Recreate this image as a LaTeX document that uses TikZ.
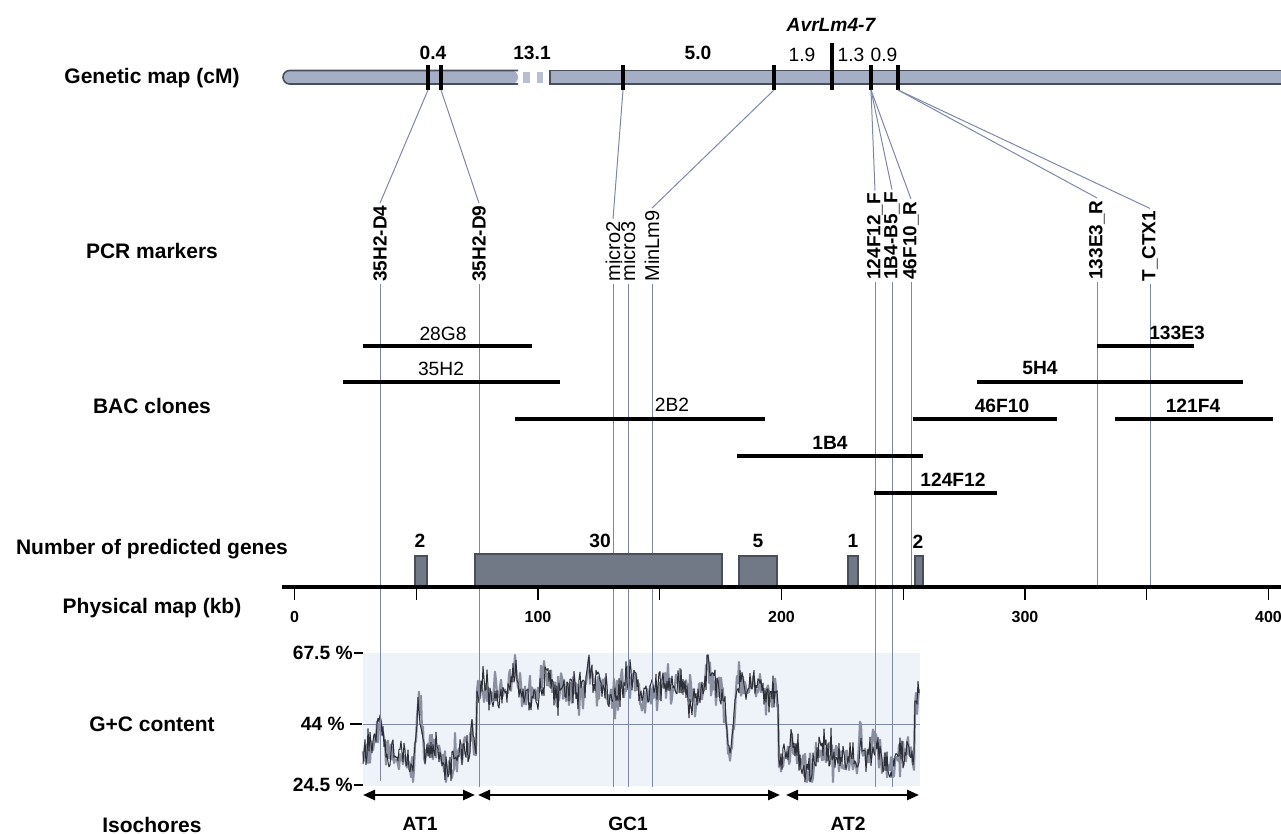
\documentclass[tikz,border=0pt]{standalone}
\usepackage{fontspec}
\setmainfont{Liberation Sans}
\usetikzlibrary{arrows.meta}
\definecolor{barfill}{HTML}{A4AEC4}
\definecolor{barline}{HTML}{4A4E5A}
\definecolor{vline}{HTML}{7D88A6}
\definecolor{genefill}{HTML}{717886}
\definecolor{gcbg}{HTML}{EEF2F9}
\definecolor{gcdark}{HTML}{2E3038}
\definecolor{gclight}{HTML}{8A90A0}
\begin{document}
\begin{tikzpicture}[x=0.5pt,y=-0.5pt,
  rowlab/.style={font=\fontsize{10.5}{12}\selectfont\bfseries, inner sep=0pt},
  num/.style={font=\fontsize{9.6}{11}\selectfont\bfseries, inner sep=0pt},
  numr/.style={font=\fontsize{9.6}{11}\selectfont, inner sep=0pt},
  mk/.style={font=\fontsize{9.5}{11}\selectfont\bfseries, rotate=90, anchor=west, inner sep=1pt},
  mkn/.style={font=\fontsize{10}{11}\selectfont, rotate=90, anchor=west, inner sep=1pt},
  gtick/.style={line width=2pt, black},
  vl/.style={draw=vline, line width=0.5pt},
  bacline/.style={line width=2pt, black},
  genebox/.style={draw=barline, fill=genefill, line width=0.6pt},
  axlab/.style={font=\fontsize{8}{10}\selectfont\bfseries, inner sep=0pt},
  iso/.style={line width=1.2pt, {Triangle[length=6pt,width=5pt]}-{Triangle[length=6pt,width=5pt]}},
  declare function={
    tri(\t,\c,\w)=max(0,1-abs(\t-\c)/\w);
    gcb(\t)=758 - 70*(\t>476)*(\t<779) - 16*(\t<386) - 16*tri(\t,379,6)
            - 62*tri(\t,419,6) - 30*tri(\t,472,3) + 8*tri(\t,490,6)
            + 65*tri(\t,730,7) - 22*tri(\t,589,4) - 20*tri(\t,708,3)
            - 25*tri(\t,860,3) - 62*(\t>914)
            + 7*sin(\t*9) + 5*sin(\t*13+40);
    gcy(\t)=min(782,max(655,gcb(\t)+12*rand+32*rand*rand*rand));
  }]
\useasboundingbox (0,0) rectangle (1281,834);

% ---------- row labels ----------
\node[rowlab] (lgen) at (152,78) {Genetic map (cM)};
\node[rowlab] (lpcr) at (152,251) {PCR markers};
\node[rowlab] (lbac) at (152,406) {BAC clones};
\node[rowlab] (lnum) at (152,549) {Number of predicted genes};
\node[rowlab] (lphy) at (152,608) {Physical map (kb)};
\node[rowlab] (lgc) at (152,724) {G+C content};
\node[rowlab] (liso) at (152,825) {Isochores};

% ---------- genetic map bar ----------
\fill[barfill, rounded corners=3.3pt] (518,70.5) -- (283,70.5) -- (283,84) -- (518,84) -- cycle;
\draw[barline, line width=0.8pt, rounded corners=3.3pt] (518,70.5) -- (283,70.5) -- (283,84) -- (518,84);
\fill[barfill] (550,70.5) rectangle (1281,84);
\draw[barline, line width=0.8pt] (1281,70.5) -- (550,70.5) -- (550,84) -- (1281,84);
\fill[barfill!80] (523,72) rectangle (530,83);
\fill[barfill!80] (537,72) rectangle (543,83);

% ticks on genetic map
\foreach \n/\gx in {1/428,2/441,3/623,4/774,6/871,7/898}{
  \draw[gtick] (\gx,65) -- (\gx,90) coordinate (g\n);
}
\draw[gtick] (832,43) -- (832,90) coordinate (g5);

% interval labels
\node[num] (c1) at (433,53) {0.4};
\node[num] (c2) at (532,53) {13.1};
\node[num] (c3) at (698,53) {5.0};
\node[numr] (c4) at (802,55) {1.9};
\node[numr] (c5) at (851,55) {1.3};
\node[numr] (c6) at (884,55) {0.9};
\node[num, font=\fontsize{9.6}{11}\selectfont\bfseries\itshape] (avr) at (831,25) {AvrLm4-7};

% ---------- PCR markers ----------
\node[mk]  (m1)  at (380,284) {35H2-D4};
\node[mk]  (m2)  at (479,284) {35H2-D9};
\node[mkn] (m3)  at (613,284) {micro2};
\node[mkn] (m4)  at (628,284) {micro3};
\node[mkn] (m5)  at (652,284) {MinLm9};
\node[mk]  (m6)  at (875,282) {124F12\_F};
\node[mk]  (m7)  at (892,282) {1B4-B5\_F};
\node[mk]  (m8)  at (911,282) {46F10\_R};
\node[mk]  (m9)  at (1097,282) {133E3\_R};
\node[mk]  (m10) at (1150,284) {T\_CTX1};

% connectors genetic map -> markers
\draw[vl] (g1) -- (m1.east);
\draw[vl] (g2) -- (m2.east);
\draw[vl] (g3) -- (m3.east);
\draw[vl] (g4) -- (m5.east);
\draw[vl] (g6) -- (m6.east);
\draw[vl] (g6) -- (m7.east);
\draw[vl] (g6) -- (m8.east);
\draw[vl] (g7) -- (m9.east);
\draw[vl] (g7) -- (m10.east);

% lower ends of the marker lines
\coordinate (e1) at (380,781);
\coordinate (e2) at (479,787);
\coordinate (e3) at (613,787);
\coordinate (e4) at (628,787);
\coordinate (e5) at (652,787);
\coordinate (e6) at (875,787);
\coordinate (e7) at (892,787);
\coordinate (e8) at (911,587);
\coordinate (e9) at (1097,587);
\coordinate (e10) at (1150,587);

% ---------- G+C background ----------
\fill[gcbg] (363,653) rectangle (920,786);
\draw[vl] (363,724) -- (920,724);

% G+C curve
\pgfmathsetseed{4711}
\draw[gclight, line width=1.1pt, line join=round] plot[domain=363:919, samples=557] (\x,{gcy(\x)});
\pgfmathsetseed{2718}
\draw[gcdark, line width=0.5pt, line join=round] plot[domain=363:919, samples=557] (\x,{gcy(\x)});

% vertical marker lines
\foreach \i in {1,...,10}{
  \draw[vl] (m\i.west) -- (e\i);
}

% ---------- BAC clones ----------
\draw[bacline] (363,346) -- (532,346);
\node[numr] (b1) at (443,334) {28G8};
\draw[bacline] (343,382) -- (560,382);
\node[numr] (b2) at (441,369) {35H2};
\draw[bacline] (515,419) -- (765,419);
\node[numr] (b3) at (672,405) {2B2};
\draw[bacline] (737,456) -- (923,456);
\node[num] (b4) at (830,443) {1B4};
\draw[bacline] (874,493) -- (997,493);
\node[num] (b5) at (953,480) {124F12};
\draw[bacline] (1097,346) -- (1194,346);
\node[num] (b6) at (1177,333) {133E3};
\draw[bacline] (977,382) -- (1243,382);
\node[num] (b7) at (1040,368) {5H4};
\draw[bacline] (913,419) -- (1057,419);
\node[num] (b8) at (1002,406) {46F10};
\draw[bacline] (1115,419) -- (1273,419);
\node[num] (b9) at (1193,406) {121F4};

% ---------- predicted genes ----------
\draw[genebox] (415,556) rectangle (427,587);
\draw[genebox] (475,554) rectangle (722,587);
\draw[genebox] (739,556) rectangle (777,587);
\draw[genebox] (848,556) rectangle (858,587);
\draw[genebox] (915,556) rectangle (923,587);
\node[num] (n1) at (420,541) {2};
\node[num] (n2) at (600,541) {30};
\node[num] (n3) at (758,541) {5};
\node[num] (n4) at (853,541) {1};
\node[num] (n5) at (918,542) {2};

% ---------- physical map ----------
\draw[line width=2pt] (282,587) -- (1281,587);
\foreach \v in {0,50,...,400}{
  \draw[line width=0.6pt] ({294.5+2.435*\v},587) -- ({294.5+2.435*\v},600);
}
\foreach \v/\nm in {0/p0,100/p1,200/p2,300/p3,400/p4}{
  \node[axlab] (\nm) at ({294.5+2.435*\v},617) {\v};
}

% ---------- G+C axis labels ----------
\node[num, anchor=east] (y1) at (353,653) {67.5 \%};
\draw[line width=0.6pt] (354,653) -- (363,653);
\node[num, anchor=east] (y2) at (345,724) {44 \%};
\draw[line width=0.6pt] (350,724) -- (362,724);
\node[num, anchor=east] (y3) at (353,785) {24.5 \%};
\draw[line width=0.6pt] (354,785) -- (363,785);

% ---------- isochores ----------
\coordinate (i1a) at (363,795); \coordinate (i1b) at (475,795);
\coordinate (i2a) at (478,795); \coordinate (i2b) at (780,795);
\coordinate (i3a) at (786,795); \coordinate (i3b) at (919,795);
\draw[iso] (i1a) -- (i1b);
\draw[iso] (i2a) -- (i2b);
\draw[iso] (i3a) -- (i3b);
\node[num] (a1) at (420,824) {AT1};
\node[num] (a2) at (628,824) {GC1};
\node[num] (a3) at (848,824) {AT2};
\end{tikzpicture}
\end{document}
